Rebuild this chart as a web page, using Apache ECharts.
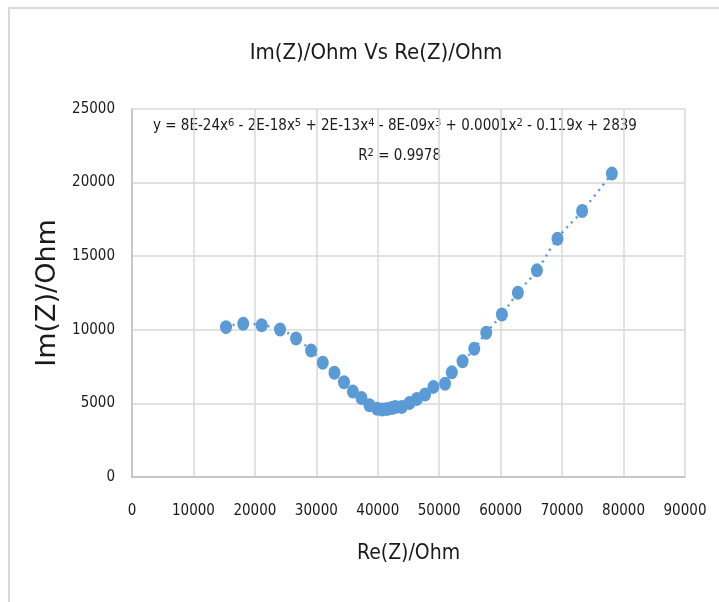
<!DOCTYPE html>
<html><head><meta charset="utf-8">
<script src="https://cdn.jsdelivr.net/npm/echarts@6/dist/echarts.min.js"></script>
<style>html,body{margin:0;padding:0;background:#fff}#c{width:719px;height:602px}</style>
</head><body><div id="c"></div>
<script>
const reZ = [15300,18100,21100,24100,26700,29150,31050,32950,34500,35950,37350,38650,39900,40700,41500,42300,42850,43900,45150,46350,47700,49050,50950,52050,53800,55700,57650,60200,62800,65900,69250,73250,78100];
const imZ = [10180,10410,10310,10020,9410,8590,7760,7080,6440,5800,5370,4870,4630,4590,4620,4690,4760,4760,5030,5300,5600,6120,6330,7110,7860,8710,9800,11040,12520,14040,16190,18070,20610];
const xTicks = [0,10000,20000,30000,40000,50000,60000,70000,80000,90000];
const yTicks = [0,5000,10000,15000,20000,25000];
const titleText = 'Im(Z)/Ohm Vs Re(Z)/Ohm';
const xName = 'Re(Z)/Ohm';
const yName = 'Im(Z)/Ohm';
const eqText = 'y = 8E-24x{s|6} - 2E-18x{s|5} + 2E-13x{s|4} - 8E-09x{s|3} + 0.0001x{s|2} - 0.119x + 2839';
const r2Text = 'R{s|2} = 0.9978';

const pts = reZ.map((x,i)=>[x,imZ[i]]);
const F = "'Liberation Sans Narrow','DejaVu Sans Condensed',sans-serif";
const chart = echarts.init(document.getElementById('c'));
chart.setOption({
  animation:false,
  backgroundColor:'#fff',
  title:{text:titleText,left:371,top:37,textAlign:'center',textStyle:{fontFamily:F,fontSize:22,fontWeight:'normal',color:'#1a1a1a'}},
  grid:{left:132,right:34,top:109,bottom:125},
  xAxis:{type:'value',min:0,max:90000,interval:10000,
    name:xName,nameLocation:'middle',nameGap:66,nameTextStyle:{fontFamily:F,fontSize:21,color:'#1a1a1a'},
    axisLine:{show:true,lineStyle:{color:'#bfbfbf',width:1.5}},axisTick:{show:false},
    axisLabel:{margin:27,fontFamily:F,fontSize:15,color:'#1a1a1a',formatter:v=>xTicks.includes(v)?String(v):''},
    splitLine:{show:true,lineStyle:{color:'#d9d9d9',width:1.5}}},
  yAxis:{type:'value',min:0,max:25000,interval:5000,
    name:yName,nameLocation:'middle',nameGap:64,nameTextStyle:{fontFamily:"'DejaVu Sans',sans-serif",fontSize:27,color:'#1a1a1a'},
    axisLine:{show:true,lineStyle:{color:'#bfbfbf',width:1.5}},axisTick:{show:false},
    axisLabel:{margin:17,fontFamily:F,fontSize:15,color:'#1a1a1a',formatter:v=>yTicks.includes(v)?String(v):''},
    splitLine:{show:true,lineStyle:{color:'#d9d9d9',width:1.5}}},
  graphic:[
    {type:'rect',shape:{x:9,y:8,width:720,height:600},style:{fill:'none',stroke:'#d9d9d9',lineWidth:2},z:-1},
    {type:'text',left:153,top:118,style:{text:eqText,fontFamily:F,fontSize:15,fill:'#1a1a1a',rich:{s:{fontSize:11,verticalAlign:'top',fontFamily:F,fill:'#1a1a1a',padding:[0,0,6,0]}}}},
    {type:'text',right:278,top:148,style:{text:r2Text,fontFamily:F,fontSize:15,fill:'#1a1a1a',rich:{s:{fontSize:11,verticalAlign:'top',fontFamily:F,fill:'#1a1a1a',padding:[0,0,6,0]}}}}
  ],
  series:[
    {type:'line',data:pts,smooth:true,symbol:'none',lineStyle:{color:'#5B9BD5',width:2.5,type:[2,5]},z:1},
    {type:'scatter',data:pts,symbol:'circle',symbolSize:[12,14],itemStyle:{color:'#5B9BD5',opacity:1},z:2}
  ]
});
</script></body></html>
